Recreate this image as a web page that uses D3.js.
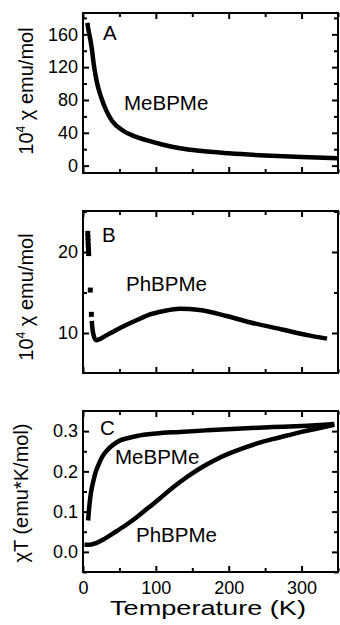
<!DOCTYPE html>
<html>
<head>
<meta charset="utf-8">
<script src="https://cdn.jsdelivr.net/npm/d3@7"></script>
<style>
  body { margin: 0; background: #fff; }
  svg text { font-family: 'Liberation Sans', Arial, sans-serif; fill: #000; }
</style>
</head>
<body>
<div id="chart"></div>
<script>
// panel A : MeBPMe, 10^4 chi vs T
const tempA = [6, 7, 8, 10, 12, 15, 19, 25, 32, 40, 55, 70, 87, 110, 133, 160, 200, 250, 300, 350]
const chiA = [174, 168, 163, 154, 143, 122, 102, 83, 67, 54.5, 42.5, 36, 31, 25.5, 21.2, 18, 15, 12.3, 10.4, 9.0]

// panel B : PhBPMe, low T points then the continuous run
const tempBlow = [6.5, 6.75, 7, 7.25, 7.5, 7.75, 10, 11.5]
const chiBlow = [22.3, 21.8, 21.3, 20.8, 20.3, 19.8, 15.3, 12.3]
const tempB = [12, 13, 15, 18, 22, 30, 40, 55, 74, 92, 110, 133, 160, 197, 230, 275, 310, 335]
const chiB = [11.5, 10.5, 9.6, 9.1, 9.2, 9.6, 10.1, 10.8, 11.6, 12.3, 12.7, 13.0, 12.85, 12.1, 11.3, 10.4, 9.7, 9.3]

// panel C : chi*T for both compounds
const tempCme = [7, 8, 10, 12, 14, 17, 21, 26, 33, 42, 51, 62, 74, 100, 133, 170, 211, 260, 300, 345]
const chiTme = [0.078, 0.10, 0.135, 0.158, 0.174, 0.196, 0.215, 0.235, 0.252, 0.267, 0.277, 0.283, 0.288, 0.294, 0.298, 0.302, 0.306, 0.310, 0.313, 0.318]
const tempCph = [2, 10, 18, 30, 45, 60, 75, 90, 105, 120, 135, 150, 165, 180, 200, 220, 240, 260, 280, 300, 320, 345]
const chiTph = [0.018, 0.018, 0.022, 0.033, 0.050, 0.068, 0.088, 0.110, 0.132, 0.155, 0.176, 0.195, 0.212, 0.227, 0.244, 0.258, 0.270, 0.280, 0.289, 0.298, 0.306, 0.316]

const xTicks = [0, 100, 200, 300]
const xMinor = [50, 150, 250, 350]
const yTicksA = [0, 40, 80, 120, 160]
const yMinorA = [20, 60, 100, 140, 180]
const yTicksB = [10, 20]
const yMinorB = [15, 25]
const yTicksC = [0, 0.1, 0.2, 0.3]
const yMinorC = [-0.05, 0.05, 0.15, 0.25]

var width = 340, height = 625
var left = 83, right = 338

var svg = d3.select('#chart').
  append('svg').
  attr('width', width).
  attr('height', height)

var x = d3.scaleLinear().domain([0, 350]).range([left, right])

const zip = (a, b) => a.map((v, i) => [v, b[i]])

function panel (top, bottom, domain, ticks, minor, fmt, showX) {
  var y = d3.scaleLinear().domain(domain).range([bottom, top])
  var g = svg.append('g')

  // major + minor ticks on all four sides, pointing inward
  var axes = [
    [d3.axisBottom(x).tickValues(xTicks).tickSize(-6).tickPadding(9).
      tickFormat(showX ? d3.format('d') : ''), `translate(0,${bottom})`],
    [d3.axisBottom(x).tickValues(xMinor).tickSize(-4).tickFormat(''), `translate(0,${bottom})`],
    [d3.axisTop(x).tickValues(xTicks).tickSize(-6).tickFormat(''), `translate(0,${top})`],
    [d3.axisTop(x).tickValues(xMinor).tickSize(-4).tickFormat(''), `translate(0,${top})`],
    [d3.axisLeft(y).tickValues(ticks).tickSize(-6).tickPadding(5).tickFormat(fmt), `translate(${left},0)`],
    [d3.axisLeft(y).tickValues(minor).tickSize(-4).tickFormat(''), `translate(${left},0)`],
    [d3.axisRight(y).tickValues(ticks).tickSize(-6).tickFormat(''), `translate(${right},0)`],
    [d3.axisRight(y).tickValues(minor).tickSize(-4).tickFormat(''), `translate(${right},0)`]
  ]
  axes.forEach(a => {
    var ax = g.append('g').attr('transform', a[1]).call(a[0])
    ax.select('.domain').remove()
    ax.selectAll('line').attr('stroke', '#000').attr('stroke-width', 2)
    ax.selectAll('text').attr('font-size', 18).attr('fill', '#000').
      style('font-family', "'Liberation Sans', Arial, sans-serif")
  })

  g.append('rect').
    attr('x', left).attr('y', top).
    attr('width', right - left).attr('height', bottom - top).
    attr('fill', 'none').attr('stroke', '#000').attr('stroke-width', 2)

  return { g: g, y: y }
}

function curve (p, data) {
  var line = d3.line().
    x(d => x(d[0])).
    y(d => p.y(d[1])).
    curve(d3.curveMonotoneX)
  p.g.append('path').
    datum(data).
    attr('d', line).
    attr('fill', 'none').
    attr('stroke', '#000').
    attr('stroke-width', 4.5)
}

function label (p, str, lx, ly) {
  p.g.append('text').attr('x', lx).attr('y', ly).attr('font-size', 20.5).text(str)
}

// A
var pA = panel(13, 173, [-9, 186], yTicksA, yMinorA, d3.format('d'), false)
curve(pA, zip(tempA, chiA))
label(pA, 'A', 103, 40)
label(pA, 'MeBPMe', 124, 110)

// B
var pB = panel(211, 373, [5.06, 25.06], yTicksB, yMinorB, d3.format('d'), false)
pB.g.selectAll('rect.pt').
  data(zip(tempBlow, chiBlow)).
  enter().
  append('rect').
  attr('class', 'pt').
  attr('x', d => x(d[0]) - 2.5).
  attr('y', d => pB.y(d[1]) - 2.5).
  attr('width', 5).
  attr('height', 5).
  attr('fill', '#000')
curve(pB, zip(tempB, chiB))
label(pB, 'B', 102, 242)
label(pB, 'PhBPMe', 126, 291)

// C
var pC = panel(411, 572, [-0.05, 0.35], yTicksC, yMinorC, d3.format('.1f'), true)
curve(pC, zip(tempCme, chiTme))
curve(pC, zip(tempCph, chiTph))
label(pC, 'C', 100, 435)
label(pC, 'MeBPMe', 115, 464)
label(pC, 'PhBPMe', 136, 542)

// axis titles
function chiTitle (cx, cy) {
  var t = svg.append('text').
    attr('transform', `translate(${cx},${cy}) rotate(-90)`).
    attr('text-anchor', 'middle').
    attr('font-size', 20)
  t.append('tspan').text('10')
  t.append('tspan').attr('font-size', 12).attr('dy', -8).text('4')
  t.append('tspan').attr('dy', 8).text(' \u03C7 emu/mol')
}
chiTitle(33, 91)
chiTitle(33, 297)

svg.append('text').
  attr('transform', 'translate(28,493) rotate(-90)').
  attr('text-anchor', 'middle').
  attr('font-size', 20).
  text('\u03C7T (emu*K/mol)')

svg.append('text').
  attr('x', 208).
  attr('y', 615).
  attr('text-anchor', 'middle').
  attr('font-size', 20).
  attr('textLength', 196).
  attr('lengthAdjust', 'spacingAndGlyphs').
  text('Temperature (K)')
</script>
</body>
</html>
